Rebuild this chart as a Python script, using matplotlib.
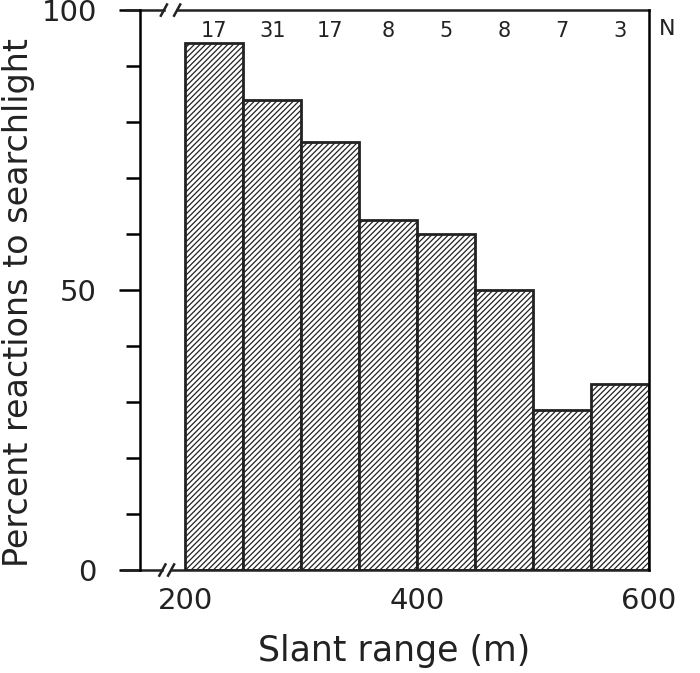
import numpy as np
import matplotlib
matplotlib.use("Agg")
import matplotlib.pyplot as plt
from matplotlib.lines import Line2D

# lecture des barres sur l'image
bin_edges = [200, 250, 300, 350, 400, 450, 500, 550, 600]
percent = [94.1, 83.9, 76.5, 62.5, 60.0, 50.0, 28.6, 33.3]
n_obs = ["17", "31", "17", "8", "5", "8", "7", "3"]
x_ticks = [200, 400, 600]
y_ticks = [0, 50, 100]

plt.rcParams['font.family'] = ['DejaVu Sans']
plt.rcParams['hatch.linewidth'] = 0.9
plt.rcParams['hatch.color'] = '#3a3a3a'

fig = plt.figure(figsize=(7, 6.73), dpi=100)
ax = fig.add_axes([0.2, 0.153, 0.727, 0.832])

lefts = np.array(bin_edges[:-1])
widths = np.diff(bin_edges)
ax.bar(lefts, percent, width=widths, align='edge', facecolor='white',
       edgecolor='#222222', linewidth=2, hatch='//////')

ax.set_xlim(161, 600)
ax.set_ylim(0, 100)

# N au-dessus de chaque barre
centers = lefts + widths / 2
for xc, n in zip(centers, n_obs):
    ax.text(xc, 96.2, n, ha='center', va='center', fontsize=15, color='#222222')
ax.text(1.02, 0.967, "N", transform=ax.transAxes, ha='left', va='center',
        fontsize=16, color='#222222')

# axes
ax.spines['bottom'].set_visible(False)
ax.spines['top'].set_visible(False)
ax.spines['left'].set_linewidth(1.8)
ax.spines['right'].set_linewidth(1.8)

ax.set_xticks(x_ticks)
ax.set_xticklabels([str(v) for v in x_ticks], fontsize=21, color='#222222')
ax.tick_params(axis='x', length=0, pad=12)
ax.set_yticks(y_ticks)
ax.set_yticklabels([str(v) for v in y_ticks], fontsize=21, color='#222222')
ax.set_yticks(np.arange(0, 101, 10), minor=True)
ax.tick_params(axis='y', which='major', length=15, width=1.8, direction='out', pad=16)
ax.tick_params(axis='y', which='minor', length=10, width=1.8, direction='out')

# lignes horizontales avec coupure //
tr = ax.transAxes
for y0, xl, s1, s2 in [(0.0, -0.033, 0.044, 0.061), (1.0, -0.025, 0.047, 0.073)]:
    ax.add_line(Line2D([xl, s1], [y0, y0], transform=tr, color='#222222', lw=1.8, clip_on=False))
    ax.add_line(Line2D([s2, 1.0], [y0, y0], transform=tr, color='#222222', lw=1.8, clip_on=False))
    for xs in (s1, s2):
        ax.add_line(Line2D([xs - 0.006, xs + 0.006], [y0 - 0.01, y0 + 0.01], transform=tr,
                           color='#222222', lw=1.8, clip_on=False))

ax.set_xlabel("Slant range (m)", fontsize=25, labelpad=14, color='#222222')
fig.text(0.026, 0.55, "Percent reactions to searchlight", rotation=90,
         ha='center', va='center', fontsize=24, color='#222222')

fig.savefig("out.png", dpi=100)
